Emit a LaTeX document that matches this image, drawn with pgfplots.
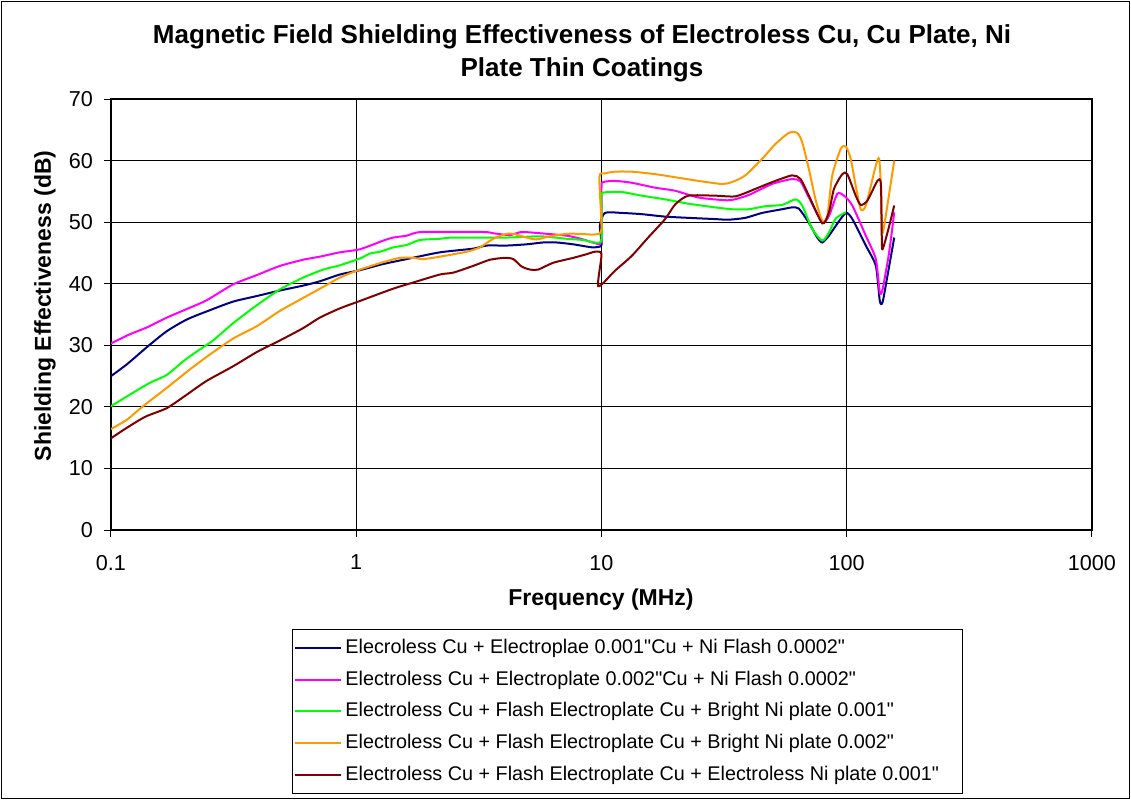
\documentclass[border=0pt]{standalone}
\usepackage{fontspec}
\setmainfont{Liberation Sans}[Ligatures=TeXOff]
\usepackage{pgfplots}
\pgfplotsset{compat=1.18}
\definecolor{cNavy}{RGB}{0,0,128}
\definecolor{cMag}{RGB}{255,0,255}
\definecolor{cGreen}{RGB}{0,255,0}
\definecolor{cOrange}{RGB}{255,153,0}
\definecolor{cDark}{RGB}{128,0,0}
\newcommand{\qd}{\symbol{"22}}
\newcommand{\legw}[1]{\makebox[306pt][l]{#1}}
\begin{document}
\begin{tikzpicture}
\begin{axis}[
  scale only axis,
  width=490.5pt, height=215.5pt,
  xmode=log,
  xmin=0.1, xmax=1000,
  ymin=0, ymax=70,
  xtick={0.1,1,10,100,1000},
  xticklabels={0.1,1,10,100,1000},
  ytick={0,10,...,70},
  xminorticks=false,
  grid=major,
  major grid style={black, line width=0.5pt},
  axis line style={black, line width=0.6pt},
  tick align=outside,
  major tick length=3.5pt,
  tick style={black, line width=0.5pt},
  xtick pos=left, ytick pos=left,
  ticklabel style={font=\fontsize{10.8}{13}\selectfont},
  /pgf/number format/assume math mode=true,
  yticklabel style={xshift=-2pt},
  xticklabel style={yshift=-5.5pt},
  xlabel={Frequency (MHz)},
  ylabel={Shielding Effectiveness (dB)},
  label style={font=\fontsize{11.5}{13}\selectfont\bfseries},
  xlabel style={at={(axis description cs:0.4995,-0.1624)}, anchor=center},
  ylabel style={at={(axis description cs:-0.0673,0.52)}, anchor=center},
  legend style={at={(axis description cs:0.1845,-0.2305)}, anchor=north west,
    draw=black, line width=0.5pt, inner xsep=1pt, inner ysep=2.5pt,
    font=\fontsize{9.9}{11}\selectfont, row sep=2.9pt,
    nodes={inner xsep=1.5pt, inner ysep=2pt, text height=7.2pt, text depth=1.8pt},
    cells={anchor=west}},
  legend image code/.code={\draw[#1, line width=1pt] (0pt,0pt) -- (23pt,0pt);},
  every axis plot/.append style={line width=1pt, smooth, tension=0.4},
]
\addplot[cNavy] coordinates {
(0.1,25.0)(0.116,26.9)(0.142,29.9)(0.169,32.3)(0.204,34.2)(0.253,35.7)(0.315,37.1)
(0.393,38.0)(0.489,38.9)(0.608,39.7)(0.711,40.4)(0.858,41.5)(1.035,42.2)(1.288,43.2)
(1.605,44.0)(2.195,45.1)(3.0,45.7)(3.40,46.2)(4.10,46.2)(4.95,46.4)(5.78,46.7)
(6.56,46.7)(7.67,46.4)(9.25,45.9)(10,46.3)
(9.85,49.4)(10.32,51.5)(12.07,51.5)(14.58,51.3)(18.17,50.9)(22.6,50.7)(29.1,50.5)
(32.97,50.4)(38.6,50.7)(45.2,51.5)(54.5,52.1)(59.9,52.4)(63.8,52.2)(70.1,49.9)
(75.8,47.5)(79.5,46.7)(84.6,47.8)(90.2,49.4)(99.1,51.5)(105.4,50.5)(119.6,46.2)
(131.4,42.9)(136.4,37.2)(140,37.0)(146.6,41.3)(156.2,47.5)
};
\addlegendentry{\legw{Elecroless Cu + Electroplae 0.001\qd Cu + Ni Flash 0.0002\qd}}
\addplot[cMag] coordinates {
(0.1,30.3)(0.1195,31.8)(0.140,32.9)(0.169,34.5)(0.204,35.9)(0.245,37.3)(0.315,39.9)
(0.393,41.4)(0.489,42.9)(0.608,43.9)(0.711,44.4)(0.858,45.1)(1.035,45.6)(1.288,47.0)
(1.415,47.5)(1.605,47.8)(1.847,48.4)(3.29,48.4)(3.62,48.2)(4.23,47.9)(4.72,48.4)
(5.61,48.2)(7.21,47.8)(8.42,47.2)(9.40,46.6)(10,47.0)
(10,55.6)(10.16,56.5)(11.34,56.7)(13.27,56.4)(16.54,55.6)(19.97,55.1)(24.87,54.0)
(30.97,53.6)(34.0,53.6)(39.8,54.4)(49.6,56.2)(59.9,57.0)(64.8,56.6)(70.1,54.0)
(79.5,50.0)(84.6,51.0)(91.5,54.6)(97.5,54.3)(105.4,52.7)(119.6,47.8)(131.4,44.0)
(136.4,38.6)(140,39.1)(148.9,45.1)(156.2,51.6)
};
\addlegendentry{\legw{Electroless Cu + Electroplate 0.002\qd Cu + Ni Flash 0.0002\qd}}
\addplot[cGreen] coordinates {
(0.1,20.1)(0.123,22.3)(0.144,23.9)(0.169,25.2)(0.197,27.4)(0.224,29.0)(0.261,30.8)
(0.315,33.6)(0.393,36.5)(0.489,39.1)(0.608,41.0)(0.734,42.3)(0.858,43.0)(1.035,44.1)
(1.137,44.9)(1.249,45.2)(1.415,45.9)(1.605,46.3)(1.818,47.1)(2.195,47.3)(2.485,47.5)
(4.10,47.5)(5.61,47.7)(7.21,47.3)(8.42,47.1)(9.40,46.7)(10,47.2)
(10,54.0)(10.16,54.8)(12.07,54.9)(14.13,54.4)(18.17,53.7)(22.6,53.0)(29.1,52.4)
(34.0,52.1)(39.8,52.1)(46.7,52.6)(54.5,52.8)(61.8,53.7)(65.8,52.7)(72.3,48.9)
(79.5,47.0)(84.6,48.3)(90.2,50.6)(99.1,51.6)
};
\addlegendentry{\legw{Electroless Cu + Flash Electroplate Cu + Bright Ni plate 0.001\qd}}
\addplot[cOrange] coordinates {
(0.1,16.4)(0.116,17.9)(0.135,20.1)(0.169,23.1)(0.210,26.1)(0.253,28.5)(0.315,31.1)
(0.393,33.1)(0.489,35.6)(0.608,37.7)(0.734,39.5)(0.858,41.0)(1.035,42.3)(1.288,43.5)
(1.507,44.2)(1.708,44.2)(1.876,44.0)(2.195,44.4)(2.82,45.2)(3.19,45.9)(3.62,47.3)
(4.10,48.1)(4.37,48.1)(4.95,47.5)(5.44,47.2)(6.16,47.7)(7.21,48.1)(8.17,48.1)
(9.40,48.0)(10,48.9)
(9.8,57.3)(10.3,57.9)(11.34,58.2)(13.27,58.2)(16.54,57.8)(19.97,57.3)(24.87,56.7)
(30.97,56.2)(34.0,56.5)(38.6,57.6)(45.2,60.3)(51.2,62.7)(58.1,64.5)(62.8,64.5)
(65.8,63.0)(70.1,58.6)(74.6,53.7)(79.5,50.2)(83.3,51.0)(87.3,57.6)(94.5,61.9)
(99.1,62.3)(103.8,60.3)(108.8,55.9)(114.0,52.1)(119.6,52.7)(131.4,59.2)(135.5,60.3)
(137.8,55.9)(139,48.6)(142.1,49.4)(156.2,60.0)
};
\addlegendentry{\legw{Electroless Cu + Flash Electroplate Cu + Bright Ni plate 0.002\qd}}
\addplot[cDark] coordinates {
(0.1,14.9)(0.116,16.6)(0.138,18.4)(0.169,19.8)(0.204,22.0)(0.245,24.2)(0.315,26.6)
(0.393,28.9)(0.489,30.8)(0.608,32.8)(0.711,34.5)(0.858,36.0)(1.035,37.2)(1.415,39.2)
(1.708,40.2)(2.195,41.5)(2.485,41.8)(3.0,42.9)(3.51,43.9)(4.04,44.2)(4.37,44.0)
(4.72,42.8)(5.11,42.3)(5.52,42.3)(6.35,43.4)(7.67,44.2)(8.70,44.8)(9.40,45.2)(10,44.8)
(9.7,39.6)(11.34,42.1)(13.27,44.5)(15.5,47.5)(18.17,50.5)(20.0,52.9)(22.6,54.3)
(29.1,54.3)(35.2,54.2)(42.4,55.4)(49.6,56.5)(59.9,57.6)(64.8,57.0)(70.1,54.3)
(79.5,49.8)(84.6,51.6)(88.7,55.4)(95.9,57.8)(100.5,57.8)(108.8,54.3)(114.0,52.8)
(121.4,53.5)(133.4,56.7)(137.8,56.2)(139,47.2)(140,45.6)(146.6,48.3)(156.2,52.7)
};
\addlegendentry{\legw{Electroless Cu + Flash Electroplate Cu + Electroless Ni plate 0.001\qd}}
\end{axis}
\node[font=\fontsize{13}{16.5}\selectfont\bfseries, align=center] at (235.5pt,238.25pt)
  {Magnetic Field Shielding Effectiveness of Electroless Cu, Cu Plate, Ni\\Plate Thin Coatings};
\draw[black, line width=0.75pt] (-54.75pt,-134.25pt) rectangle (509.25pt,264.25pt);
\pgfresetboundingbox
\useasboundingbox (-55.5pt,-135pt) rectangle (510pt,265pt);
\end{tikzpicture}
\end{document}
